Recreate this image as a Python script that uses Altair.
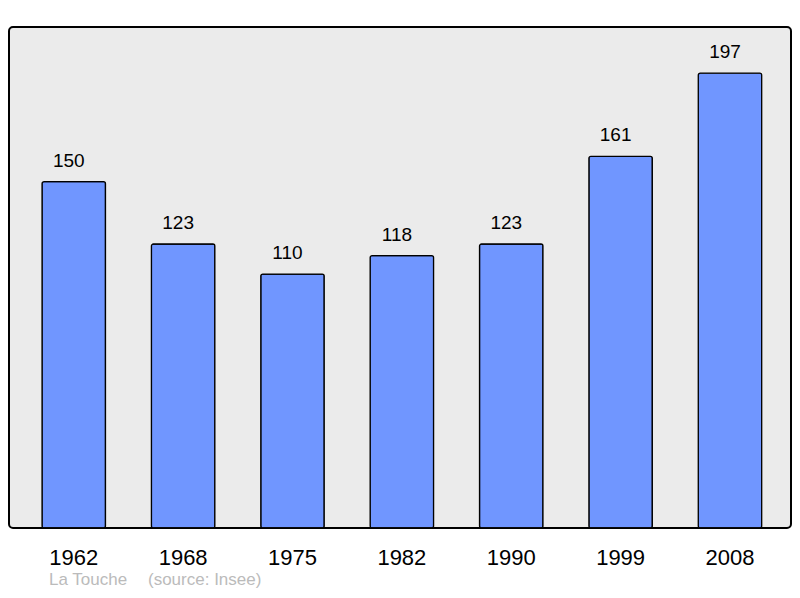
import altair as alt
import pandas as pd

years = ["1962", "1968", "1975", "1982", "1990", "1999", "2008"]
population = [150, 123, 110, 118, 123, 161, 197]
commune = "La Touche"
source = "(source: Insee)"

df = pd.DataFrame({"year": years, "pop": population})
font = "Liberation Sans"

x = alt.X("year:N", sort=years, title=None,
          scale=alt.Scale(paddingInner=0.42, paddingOuter=0.285, align=0.53),
          axis=alt.Axis(labelAngle=0, labelFontSize=22, labelColor="black",
                        labelFont=font, labelPadding=19, ticks=False,
                        tickSize=0, domain=False, grid=False))
y = alt.Y("pop:Q", title=None, scale=alt.Scale(domain=[0, 217], nice=False),
          axis=None)

base = alt.Chart(df).encode(x=x, y=y)

bars = base.mark_bar(color="#7096ff", stroke="black", strokeWidth=1.3,
                     cornerRadius=2)

labels = base.mark_text(baseline="alphabetic", dy=-15, dx=-5, fontSize=19,
                        font=font, color="black").encode(text="pop:Q")


def footer_text(text, px):
    return alt.Chart(pd.DataFrame({"t": [text]})).mark_text(
        align="left", baseline="alphabetic", fontSize=17, font=font,
        color="#bbbbbb"
    ).encode(x=alt.value(px), y=alt.value(558), text="t:N")


chart = (alt.layer(bars, labels, footer_text(commune, 40),
                   footer_text(source, 139))
         .properties(width=782, height=501,
                     autosize=alt.AutoSizeParams(type="none"),
                     padding={"left": 1, "top": 19, "right": 1, "bottom": 62},
                     background="white")
         .configure_view(fill="#ebebeb", stroke="black", strokeWidth=2,
                         cornerRadius=4))

chart.save("out.html", embed_options={"renderer": "svg", "actions": False})
